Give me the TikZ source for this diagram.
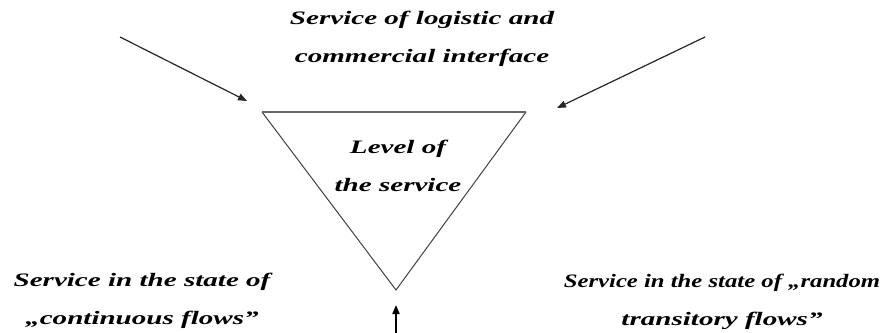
\documentclass[tikz,border=0pt]{standalone}
\usepackage{fontspec}
\setmainfont{Liberation Serif}
\newfontfamily\widefont[FakeStretch=1.53]{Liberation Serif}
\newfontfamily\midfont[FakeStretch=1.3]{Liberation Serif}
\usetikzlibrary{arrows.meta}
\begin{document}
\begin{tikzpicture}[x=1pt,y=-1pt,
  lbl/.style={font=\widefont\bfseries\itshape\fontsize{19}{38}\selectfont, align=center, inner sep=0pt},
  feed/.style={draw=black!85, line width=1.2pt, -{Triangle[length=9pt,width=7pt]}},
  edge/.style={draw=black!75, line width=1pt}]
\useasboundingbox (0,0) rectangle (885,332);
\coordinate (tl) at (262,112);
\coordinate (tr) at (526,112);
\coordinate (ap) at (396,290);
\draw[edge] (tl) -- (ap) -- (tr);
\draw[draw=black!60, line width=2.2pt] (tl) -- (tr);
\node[lbl] (top) at (422,39) {Service of logistic and\\commercial interface};
\node[lbl] (lev) at (398,166) {Level of\\the service};
\node[lbl] (left) at (142,301) {Service in the state of\\„continuous flows”};
\node[lbl] (right) at (722,302) {{\midfont Service in the state of „random}\\transitory  flows”};
\coordinate (la) at (120,37);
\coordinate (lb) at (247,101);
\coordinate (ra) at (705,37);
\coordinate (rb) at (557,108);
\draw[feed] (la) -- (lb);
\draw[feed] (ra) -- (rb);
\coordinate (ua) at (396,340);
\coordinate (ub) at (396,305);
\draw[line width=2pt, -{Triangle[length=9pt,width=7pt]}] (ua) -- (ub);
\end{tikzpicture}
\end{document}
